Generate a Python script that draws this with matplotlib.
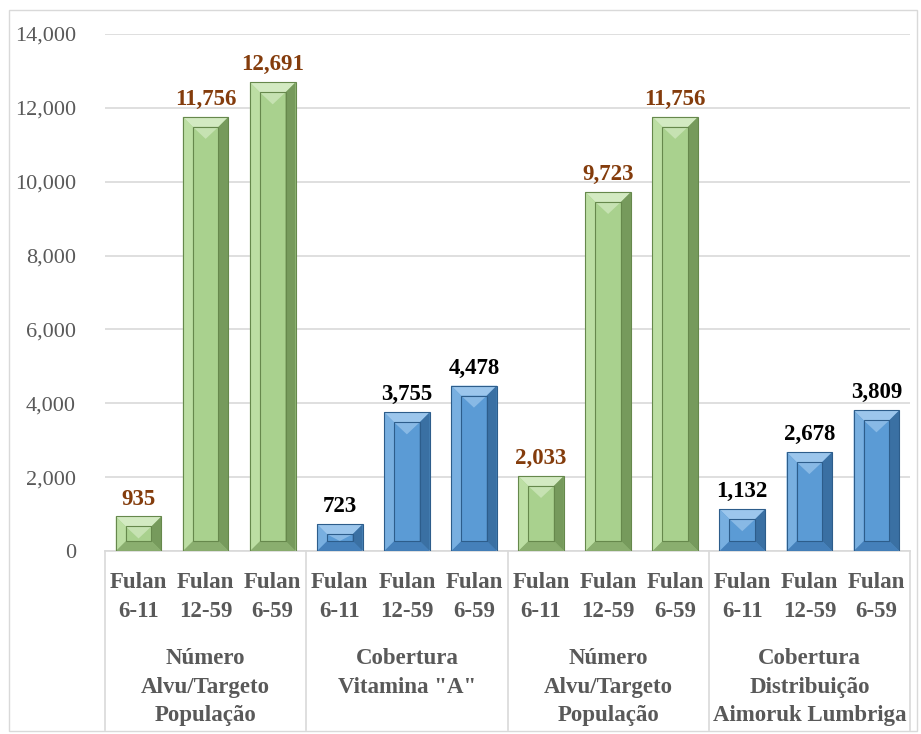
import matplotlib
matplotlib.use("Agg")
import matplotlib.pyplot as plt
from matplotlib.patches import Polygon, Rectangle
import matplotlib.transforms as mtransforms

plt.rcParams['font.family'] = ['Liberation Serif', 'DejaVu Serif']

# ---- data ----
sub_labels = ["Fulan\n6-11", "Fulan\n12-59", "Fulan\n6-59"] * 4
group_labels = ["Número\nAlvu/Targeto\nPopulação",
                "Cobertura\nVitamina \"A\"",
                "Número\nAlvu/Targeto\nPopulação",
                "Cobertura\nDistribuição\nAimoruk Lumbriga"]
values = [935, 11756, 12691, 723, 3755, 4478, 2033, 9723, 11756, 1132, 2678, 3809]
series_kind = ["target"] * 3 + ["coverage"] * 3 + ["target"] * 3 + ["coverage"] * 3
y_ticks = [0, 2000, 4000, 6000, 8000, 10000, 12000, 14000]

palettes = {
    "target": dict(base="#a9d18e", top="#d3eac2", left="#bcdea3", right="#769a5c",
                   bottom="#8aae6f", edge="#66884c", label="#843c0c"),
    "coverage": dict(base="#5b9bd5", top="#9cc6ec", left="#78afe0", right="#3a70a3",
                     bottom="#4580ba", edge="#2d5d8b", label="#000000"),
}

gray = "#595959"

W, H = 921, 734
fig = plt.figure(figsize=(W / 100, H / 100), dpi=100)
L, R, B, T = 105, 910, 551, 34
ax = fig.add_axes([L / W, 1 - B / H, (R - L) / W, (B - T) / H])

n = len(values)
ax.set_xlim(-0.5, n - 0.5)
ax.set_ylim(0, 14000)

px_x = (R - L) / n
px_y = (B - T) / 14000.0
bw = 0.68
bev = 10

for i, (v, k) in enumerate(zip(values, series_kind)):
    p = palettes[k]
    x0, x1 = i - bw / 2, i + bw / 2
    dx = bev / px_x
    dy = min(bev / px_y, v / 2.0)
    ax.add_patch(Rectangle((x0, 0), bw, v, facecolor=p["base"], edgecolor="none", zorder=2))
    facets = [
        ([(x0, v), (x1, v), (x1 - dx, v - dy), (x0 + dx, v - dy)], p["top"]),
        ([(x0, 0), (x1, 0), (x1 - dx, dy), (x0 + dx, dy)], p["bottom"]),
        ([(x0, 0), (x0, v), (x0 + dx, v - dy), (x0 + dx, dy)], p["left"]),
        ([(x1, 0), (x1, v), (x1 - dx, v - dy), (x1 - dx, dy)], p["right"]),
    ]
    for pts, c in facets:
        ax.add_patch(Polygon(pts, closed=True, facecolor=c, edgecolor="none", zorder=3))
    # light triangle on the top of the face
    tri_h = min(2.2 * dy, v - dy)
    ax.add_patch(Polygon([(x0 + dx, v - dy), (x1 - dx, v - dy), (i, v - tri_h)],
                         closed=True, facecolor=p["top"], edgecolor="none", alpha=0.7, zorder=3))
    ax.add_patch(Rectangle((x0 + dx, dy), bw - 2 * dx, v - 2 * dy, facecolor="none",
                           edgecolor=p["edge"], linewidth=0.8, zorder=4))
    ax.add_patch(Rectangle((x0, 0), bw, v, facecolor="none",
                           edgecolor=p["edge"], linewidth=0.8, zorder=4))
    ax.annotate(f"{v:,}", (i, v), xytext=(0, 5), textcoords="offset points",
                ha="center", va="bottom", fontsize=16.5, fontweight="bold",
                color=p["label"], zorder=5)

ax.set_yticks(y_ticks)
ax.set_yticklabels([f"{t:,}" for t in y_ticks], fontsize=16, color=gray)
ax.yaxis.grid(True, color="#d9d9d9", linewidth=1.2)
ax.set_axisbelow(True)
ax.tick_params(axis="y", length=0, pad=21)
ax.set_xticks([])
for s in ["top", "right", "left"]:
    ax.spines[s].set_visible(False)
ax.spines["bottom"].set_color("#d9d9d9")
ax.spines["bottom"].set_linewidth(1.2)

trans = mtransforms.blended_transform_factory(ax.transData, ax.transAxes)
def ypix(p):
    return (B - p) / (B - T)

line_h = 28.5
for i, lab in enumerate(sub_labels):
    for j, line in enumerate(lab.split("\n")):
        ax.text(i, ypix(583 + j * line_h), line, transform=trans, ha="center", va="center",
                fontsize=16.5, fontweight="bold", color=gray, clip_on=False)
for g, lab in enumerate(group_labels):
    for j, line in enumerate(lab.split("\n")):
        ax.text(3 * g + 1, ypix(659 + j * line_h), line, transform=trans, ha="center",
                va="center", fontsize=16.5, fontweight="bold", color=gray, clip_on=False)
for g in range(5):
    xb = 3 * g - 0.5
    ax.plot([xb, xb], [0, ypix(730)], transform=trans, color="#d9d9d9",
            linewidth=1.2, clip_on=False, zorder=1)

fig.patches.append(Rectangle((9 / W, 1 - 731 / H), (917 - 9) / W, (731 - 10) / H,
                             transform=fig.transFigure, facecolor="none",
                             edgecolor="#d9d9d9", linewidth=1.0))

fig.savefig("out.png", dpi=100)
